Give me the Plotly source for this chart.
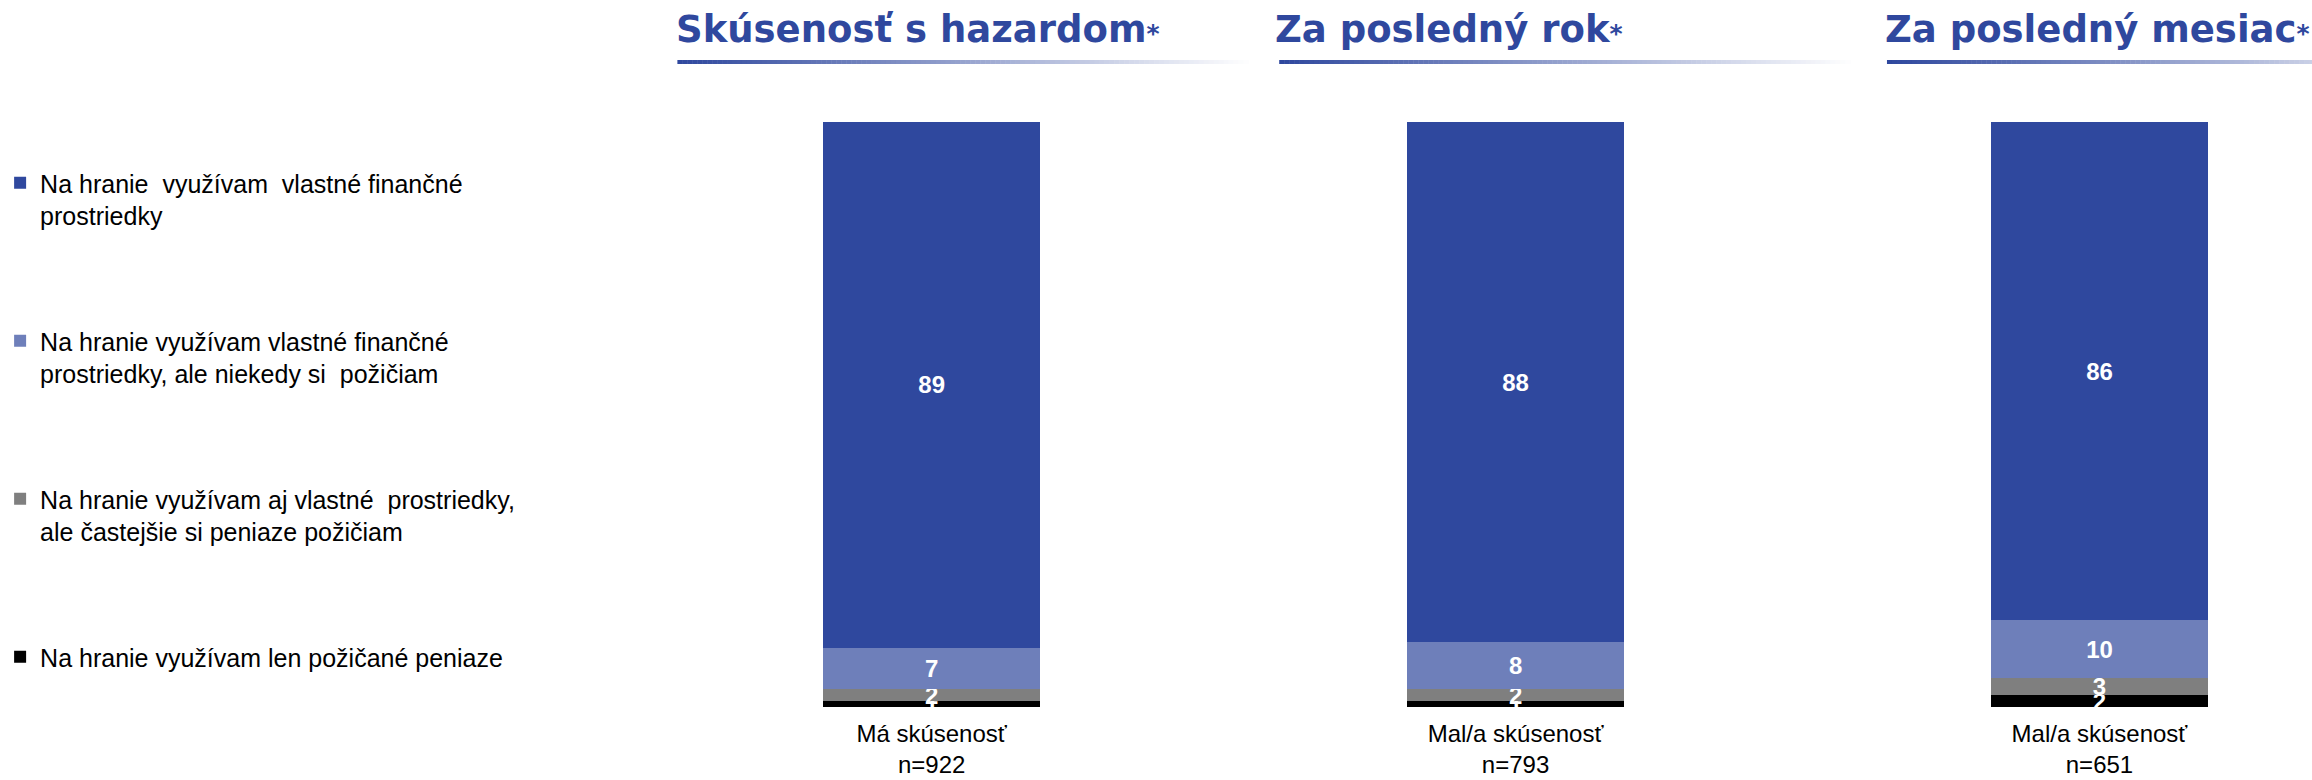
import plotly.graph_objects as go

W, H = 2312, 780
MT, MB = 122, 73

panel_titles = ["Skúsenosť s hazardom", "Za posledný rok", "Za posledný mesiac"]
categories = ["Má skúsenosť<br>n=922", "Mal/a skúsenosť<br>n=793", "Mal/a skúsenosť<br>n=651"]

series_names = [
    "Na hranie využívam len požičané peniaze",
    "Na hranie využívam aj vlastné\u00a0 prostriedky,<br>ale častejšie si peniaze požičiam",
    "Na hranie využívam vlastné finančné<br>prostriedky, ale niekedy si\u00a0 požičiam",
    "Na hranie\u00a0 využívam\u00a0 vlastné finančné<br>prostriedky",
]
only_borrowed = [1, 1, 2]
mostly_borrowed = [2, 2, 3]
sometimes_borrow = [7, 8, 10]
own_money = [89, 88, 86]
series_values = [only_borrowed, mostly_borrowed, sometimes_borrow, own_money]
colors = ["#000000", "#7F7F7F", "#6E7FBA", "#2F489E"]

BLUE = (47, 72, 158)
FONT = "Arial, Liberation Sans, sans-serif"
TITLE_FONT = "DejaVu Sans, Arial Black, sans-serif"


def px_x(x):
    return x / W


def px_y(y):
    return (H - MB - y) / (H - MT - MB)


# subplot centres / widths in pixels
centres = [922, 1510, 2098]
dom_w = 300
bar_w = 218 / dom_w

fig = go.Figure()

for k, (name, vals, col) in enumerate(zip(series_names, series_values, colors)):
    for i in range(3):
        fig.add_trace(go.Bar(
            x=[categories[i]],
            y=[vals[i]],
            name=name,
            legendgroup=name,
            legendrank=4 - k,
            showlegend=(i == 0),
            xaxis="x" if i == 0 else f"x{i+1}",
            yaxis="y" if i == 0 else f"y{i+1}",
            width=bar_w,
            marker=dict(color=col, line=dict(width=0)),
            text=[vals[i]],
            texttemplate="%{text}",
            textposition="inside",
            insidetextanchor="middle",
            textangle=0,
            constraintext="none",
            textfont=dict(color="white", size=24, family=FONT, weight="bold"),
            hovertemplate="%{text}<extra></extra>",
        ))

layout = dict(
    width=W, height=H,
    margin=dict(l=0, r=0, t=MT, b=MB),
    paper_bgcolor="white",
    plot_bgcolor="white",
    barmode="stack",
    barnorm="percent",
    uniformtext=dict(mode="show", minsize=24),
    font=dict(family=FONT, color="black", size=24),
    legend=dict(
        x=-16 / W, xanchor="left",
        y=px_y(160), yanchor="top",
        traceorder="grouped",
        tracegroupgap=90,
        valign="top",
        font=dict(size=25, family=FONT, color="black"),
        bgcolor="rgba(0,0,0,0)",
    ),
    showlegend=True,
)

for i, c in enumerate(centres):
    sfx = "" if i == 0 else str(i + 1)
    layout[f"xaxis{sfx}"] = dict(
        domain=[px_x(c - dom_w / 2), px_x(c + dom_w / 2)],
        anchor=f"y{sfx}",
        range=[-0.5, 0.5],
        showgrid=False, zeroline=False, showline=False, ticks="",
        tickfont=dict(size=24, family=FONT, color="black"),
        ticklabelstandoff=10,
        automargin=False,
    )
    layout[f"yaxis{sfx}"] = dict(
        domain=[0, 1],
        anchor=f"x{sfx}",
        range=[0, 100],
        visible=False,
        automargin=False,
    )

fig.update_layout(**layout)

# panel titles
title_left = [663, 1266, 1880]
for t, x0 in zip(panel_titles, title_left):
    fig.add_annotation(
        text=f"<b>{t}</b><span style='font-size:25px'><b>*</b></span>",
        xref="paper", yref="paper",
        x=px_x(x0), y=px_y(30),
        xanchor="left", yanchor="middle",
        showarrow=False,
        font=dict(size=37, family=TITLE_FONT, color="rgb(47,72,158)"),
    )

# gradient underlines below titles
line_left = [666, 1272, 1884]
line_len = 575
n_seg = 115
for x0 in line_left:
    for s in range(n_seg):
        f = s / n_seg
        r, g, b = [int(round(c + (255 - c) * f)) for c in BLUE]
        fig.add_shape(
            type="rect", xref="paper", yref="paper",
            x0=px_x(x0 + line_len * s / n_seg), x1=px_x(x0 + line_len * (s + 1) / n_seg + 0.5),
            y0=px_y(64), y1=px_y(60),
            fillcolor=f"rgb({r},{g},{b})", line=dict(width=0), layer="above",
        )

fig.write_html(
    "out.html",
    config={"displayModeBar": False},
    post_script="document.body.style.margin='0px';",
)
